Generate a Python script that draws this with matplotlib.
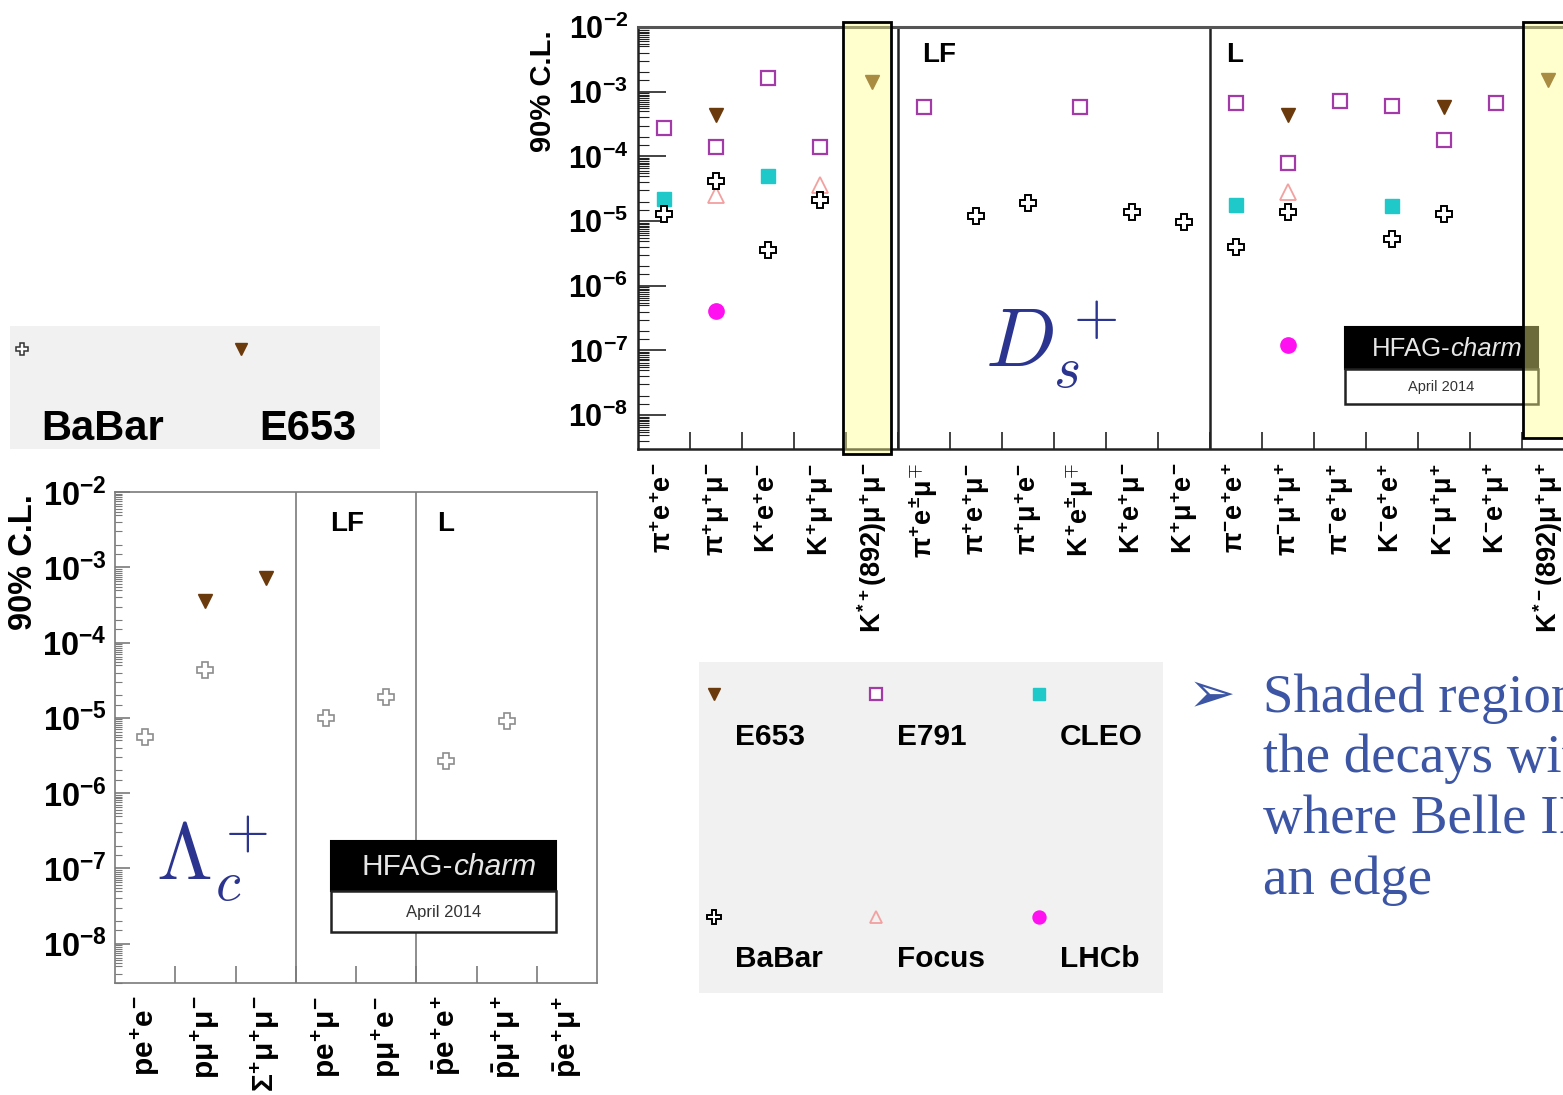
import numpy as np
import matplotlib
matplotlib.use("Agg")
import matplotlib.pyplot as plt
from matplotlib.patches import Rectangle
from matplotlib.lines import Line2D
from matplotlib.ticker import FixedLocator, FuncFormatter, NullFormatter
import matplotlib.transforms as mtransforms

nan = np.nan

# ---------------- D_s+ rare / forbidden decays (90% C.L. upper limits) ----------------
ds_channels = [
    r"$\pi^{+}e^{+}e^{-}$", r"$\pi^{+}\mu^{+}\mu^{-}$", r"$K^{+}e^{+}e^{-}$",
    r"$K^{+}\mu^{+}\mu^{-}$", r"$K^{*+}(892)\mu^{+}\mu^{-}$",
    r"$\pi^{+}e^{\pm}\mu^{\mp}$", r"$\pi^{+}e^{+}\mu^{-}$", r"$\pi^{+}\mu^{+}e^{-}$",
    r"$K^{+}e^{\pm}\mu^{\mp}$", r"$K^{+}e^{+}\mu^{-}$", r"$K^{+}\mu^{+}e^{-}$",
    r"$\pi^{-}e^{+}e^{+}$", r"$\pi^{-}\mu^{+}\mu^{+}$", r"$\pi^{-}e^{+}\mu^{+}$",
    r"$K^{-}e^{+}e^{+}$", r"$K^{-}\mu^{+}\mu^{+}$", r"$K^{-}e^{+}\mu^{+}$",
    r"$K^{*-}(892)\mu^{+}\mu^{+}$",
]
ds_e653 = [nan, 4.3e-4, nan, nan, 1.4e-3, nan, nan, nan, nan, nan, nan,
           nan, 4.4e-4, nan, nan, 5.8e-4, nan, 1.5e-3]
ds_e791 = [2.7e-4, 1.4e-4, 1.6e-3, 1.4e-4, nan, 5.8e-4, nan, nan, 5.8e-4, nan, nan,
           6.8e-4, 8.0e-5, 7.2e-4, 6.0e-4, 1.8e-4, 6.8e-4, nan]
ds_cleo = [2.2e-5, nan, 5.0e-5, nan, nan, nan, nan, nan, nan, nan, nan,
           1.8e-5, nan, nan, 1.7e-5, nan, nan, nan]
ds_babar = [1.3e-5, 4.2e-5, 3.6e-6, 2.1e-5, nan, nan, 1.2e-5, 1.9e-5, nan, 1.4e-5, 9.7e-6,
            4.0e-6, 1.4e-5, nan, 5.2e-6, 1.3e-5, nan, nan]
ds_focus = [nan, 2.5e-5, nan, 3.6e-5, nan, nan, nan, nan, nan, nan, nan,
            nan, 2.8e-5, nan, nan, nan, nan, nan]
ds_lhcb = [nan, 4.1e-7, nan, nan, nan, nan, nan, nan, nan, nan, nan,
           nan, 1.2e-7, nan, nan, nan, nan, nan]
ds_groups = [("", 0), ("LF", 5), ("L", 11)]
ds_shaded = [4, 17]

# ---------------- Lambda_c+ rare / forbidden decays ----------------
lc_channels = [
    r"$pe^{+}e^{-}$", r"$p\mu^{+}\mu^{-}$", r"$\Sigma^{+}\mu^{+}\mu^{-}$",
    r"$pe^{+}\mu^{-}$", r"$p\mu^{+}e^{-}$",
    r"$\bar{p}e^{+}e^{+}$", r"$\bar{p}\mu^{+}\mu^{+}$", r"$\bar{p}e^{+}\mu^{+}$",
]
lc_e653 = [nan, 3.6e-4, 7.1e-4, nan, nan, nan, nan, nan]
lc_babar = [5.5e-6, 4.3e-5, nan, 9.8e-6, 1.9e-5, 2.7e-6, 9.1e-6, nan]
lc_groups = [("", 0), ("LF", 3), ("L", 5)]

decades = [-8, -7, -6, -5, -4, -3, -2]
y_range = (3e-9, 1e-2)

# ---------------- styling ----------------
W, H = 1563, 1095
plt.rcParams['font.family'] = ['Liberation Sans', 'DejaVu Sans']
plt.rcParams['mathtext.fontset'] = 'custom'
for key in ('rm', 'it', 'bf', 'sf'):
    plt.rcParams['mathtext.' + key] = 'Liberation Sans:bold'

BROWN = '#6b3a0c'
PURPLE = '#a23aa8'
CYAN = '#1fc9c9'
PINK = '#f2a0a0'
MAGENTA = '#ff10f0'
NAVY = '#2b3590'
BLUE_TXT = '#3c56a5'

styles = {
    'E653': dict(marker='v', ms=10, mfc=BROWN, mec=BROWN, mew=1),
    'E791': dict(marker='s', ms=10.5, mfc='white', mec=PURPLE, mew=1.6),
    'CLEO': dict(marker='s', ms=10, mfc=CYAN, mec=CYAN, mew=1),
    'BaBar': dict(marker='P', ms=11.5, mfc='white', mec='black', mew=1.4),
    'Focus': dict(marker='^', ms=11, mfc='none', mec=PINK, mew=1.3),
    'LHCb': dict(marker='o', ms=11, mfc=MAGENTA, mec=MAGENTA, mew=1),
}

fig = plt.figure(figsize=(W / 100, H / 100), dpi=100)
fig.patch.set_facecolor('white')
# pixel coordinates measured from the top-left corner
pix = mtransforms.Affine2D().scale(1, -1).translate(0, H)


def fig_rect(x0, y0, x1, y1):
    return [x0 / W, 1 - y1 / H, (x1 - x0) / W, (y1 - y0) / H]


def setup_axes(ax, channels, groups, spine_col, spine_lw, tick_fs, x_fs,
               major_len, minor_len, x_pad, y_pad):
    n = len(channels)
    ax.set_yscale('log')
    ax.set_ylim(*y_range)
    ax.set_xlim(-0.5, n - 0.5)
    ax.yaxis.set_major_locator(FixedLocator([10.0 ** d for d in decades]))
    subs = [1.5, 2, 3, 4, 5, 5.5, 6, 6.5, 7, 7.5, 8, 8.5, 9, 9.5]
    minors = [s * 10.0 ** d for d in range(-9, -2) for s in subs]
    ax.yaxis.set_minor_locator(FixedLocator(minors))
    ax.yaxis.set_minor_formatter(NullFormatter())
    ax.yaxis.set_major_formatter(FuncFormatter(
        lambda v, p: r"$10^{%d}$" % int(round(np.log10(v)))))
    ax.xaxis.set_major_locator(FixedLocator(range(n)))
    ax.set_xticklabels(channels, rotation=90)
    ax.xaxis.set_minor_locator(FixedLocator(np.arange(n - 1) + 0.5))
    ax.tick_params(axis='y', which='major', direction='in', length=major_len,
                   width=1.2, color=spine_col, labelsize=tick_fs, pad=y_pad,
                   right=False)
    ax.tick_params(axis='y', which='minor', direction='in', length=minor_len,
                   width=0.8, color=spine_col, right=False)
    ax.tick_params(axis='x', which='major', length=0, labelsize=x_fs, pad=x_pad)
    ax.tick_params(axis='x', which='minor', direction='in', length=12,
                   width=1.2, color=spine_col, top=False)
    for sp in ax.spines.values():
        sp.set_color(spine_col)
        sp.set_linewidth(spine_lw)
    for name, start in groups[1:]:
        ax.axvline(start - 0.5, color=spine_col, lw=spine_lw, zorder=1)


def draw_series(ax, values, exp, **over):
    st = dict(styles[exp])
    st.update(over)
    x = np.arange(len(values))
    ax.plot(x, values, ls='none', zorder=4, clip_on=False, **st)


def group_labels(ax, groups, offsets, y, fs):
    blend = mtransforms.blended_transform_factory(ax.transData, pix)
    shift = mtransforms.ScaledTranslation(0, 0, fig.dpi_scale_trans)
    for (name, start), off in zip(groups[1:], offsets):
        tr = blend + mtransforms.Affine2D().translate(off, 0)
        ax.text(start - 0.5, y, name, transform=tr, ha='left', va='center',
                fontsize=fs, fontweight='bold', zorder=3)


def hfag_box(ax, x0, y0, ymid, y1, x1, split, fs_big, fs_small, z):
    ax.add_patch(Rectangle((x0, y0), x1 - x0, ymid - y0, transform=pix,
                           facecolor='black', edgecolor='black', lw=1.5,
                           zorder=z, clip_on=False))
    ax.add_patch(Rectangle((x0, ymid), x1 - x0, y1 - ymid, transform=pix,
                           facecolor='white', edgecolor='#222222', lw=1.8,
                           zorder=z, clip_on=False))
    yc = (y0 + ymid) / 2 + 1
    ax.text(split, yc, "HFAG-", transform=pix, ha='right', va='center',
            color='#e6e6e6', fontsize=fs_big, zorder=z + 1, clip_on=False)
    ax.text(split, yc, "charm", transform=pix, ha='left', va='center',
            color='#e6e6e6', fontsize=fs_big, style='italic', zorder=z + 1,
            clip_on=False)
    ax.text((x0 + x1) / 2, (ymid + y1) / 2 + 1, "April 2014", transform=pix,
            ha='center', va='center', color='#333333', fontsize=fs_small,
            zorder=z + 1, clip_on=False)


# ---------------- D_s+ panel ----------------
n_ds = len(ds_channels)
ax_ds = fig.add_axes(fig_rect(638, 27, 638 + 52 * n_ds, 449))
ax_ds.patch.set_alpha(0)
setup_axes(ax_ds, ds_channels, ds_groups, '#222222', 1.8, 22, 19.5,
           20, 8, 10, 7)
ax_ds.spines['top'].set_color('#555555')
ax_ds.spines['top'].set_linewidth(2.2)

draw_series(ax_ds, ds_e653, 'E653')
draw_series(ax_ds, ds_e791, 'E791')
draw_series(ax_ds, ds_cleo, 'CLEO')
draw_series(ax_ds, ds_focus, 'Focus')
draw_series(ax_ds, ds_babar, 'BaBar')
draw_series(ax_ds, ds_lhcb, 'LHCb')

group_labels(ax_ds, ds_groups, (24, 16), 55, 20)

ax_ds.text(985, 368, r"$D_s^+$", transform=pix, math_fontfamily='cm',
           fontsize=60, color=NAVY, ha='left', va='baseline', zorder=3)

hfag_box(ax_ds, 1345, 327, 369, 404, 1538, 1450, 18.5, 10.5, 6)

# shaded channels
blend_ds = mtransforms.blended_transform_factory(ax_ds.transData, pix)
shade_ext = {4: (-0.56, 0.92, 22, 454), 17: (-0.48, 1.0, 22, 438)}
for idx in ds_shaded:
    dx, w, top, bot = shade_ext[idx]
    ax_ds.add_patch(Rectangle((idx + dx, top), w, bot - top, transform=blend_ds,
                              facecolor=(1.0, 1.0, 0.55, 0.42), edgecolor='black',
                              lw=2, zorder=8, clip_on=False))

fig.text(543, 91, "90% C.L.", transform=pix, rotation=90, ha='center',
         va='center', fontsize=21, fontweight='bold')

# ---------------- Lambda_c+ panel ----------------
ax_lc = fig.add_axes(fig_rect(115, 492, 597, 983))
ax_lc.patch.set_alpha(0)
setup_axes(ax_lc, lc_channels, lc_groups, '#7a7a7a', 1.2, 23.5, 21.5,
           11, 5, 9, 6)

draw_series(ax_lc, lc_e653, 'E653')
draw_series(ax_lc, lc_babar, 'BaBar', mec='#8c8c8c', mew=1.2)

group_labels(ax_lc, lc_groups, (34, 21), 524, 20)

ax_lc.text(156, 880, r"$\Lambda_c^+$", transform=pix, math_fontfamily='cm',
           fontsize=58, color=NAVY, ha='left', va='baseline', zorder=3)

hfag_box(ax_lc, 331, 841, 891, 932, 556, 453, 21.5, 12, 6)

fig.text(24, 562, "90% C.L.", transform=pix, rotation=90, ha='center',
         va='center', fontsize=23.5, fontweight='bold')

# ---------------- legends ----------------
fig.patches.append(Rectangle((10, 326), 370, 123, transform=pix,
                             facecolor='#f1f1f1', edgecolor='none', zorder=0))
fig.add_artist(Line2D([22], [349], transform=pix, ls='none',
                      **dict(styles['BaBar'], ms=8, mew=1.1, mec='#333333')))
fig.add_artist(Line2D([241], [349], transform=pix, ls='none',
                      **dict(styles['E653'], ms=8)))
fig.text(41, 440, "BaBar", transform=pix, fontsize=30, fontweight='bold',
         ha='left', va='baseline')
fig.text(259, 440, "E653", transform=pix, fontsize=30, fontweight='bold',
         ha='left', va='baseline')

fig.patches.append(Rectangle((699, 662), 464, 331, transform=pix,
                             facecolor='#f1f1f1', edgecolor='none', zorder=0))
legend_rows = [[('E653', 714), ('E791', 876), ('CLEO', 1039)],
               [('BaBar', 714), ('Focus', 876), ('LHCb', 1039)]]
for (row, y_mark, y_txt) in zip(legend_rows, (694, 917), (745, 967)):
    for exp, xm in row:
        st = dict(styles[exp])
        st['ms'] = st['ms'] * 0.85
        fig.add_artist(Line2D([xm], [y_mark], transform=pix, ls='none', **st))
        fig.text(xm + 21, y_txt, exp, transform=pix, fontsize=21.5,
                 fontweight='bold', ha='left', va='baseline')

# ---------------- bullet note ----------------
fig.text(1188, 712, "\u27a2", transform=pix, fontsize=41, color=BLUE_TXT,
         family='DejaVu Sans', ha='left', va='baseline')
note_lines = ["Shaded region", "the decays with", "where Belle II", "an edge"]
for i, line in enumerate(note_lines):
    fig.text(1263, 712 + 60.5 * i, line, transform=pix, fontsize=39.5,
             family='Liberation Serif', color=BLUE_TXT, ha='left', va='baseline')

fig.savefig("out.png", dpi=100, facecolor='white')
